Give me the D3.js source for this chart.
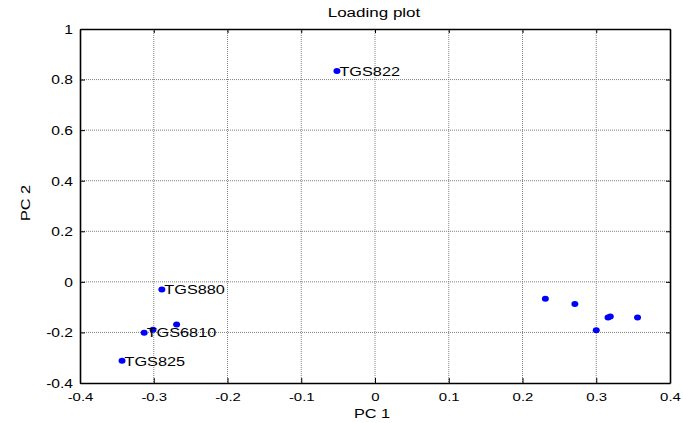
<!DOCTYPE html>
<html><head><meta charset="utf-8">
<script src="https://cdn.jsdelivr.net/npm/d3@7"></script>
<style>html,body{margin:0;padding:0;background:#fff;} svg{display:block;} text{font-family:"Liberation Sans",Arial,sans-serif;fill:#000;}</style>
</head><body>
<svg id="c" width="683" height="423"></svg>
<script>
// ---- data ----
const pc1 = [-0.0516, -0.289, -0.313, -0.301, -0.269, -0.343, 0.231, 0.271, 0.300, 0.316, 0.319, 0.356];
const pc2 = [0.834, -0.030, -0.201, -0.189, -0.169, -0.312, -0.067, -0.088, -0.191, -0.141, -0.137, -0.141];
const pointLabels = ["TGS822", "TGS880", "TGS6810", "", "", "TGS825", "", "", "", "", "", ""];
const xTicks = [-0.4, -0.3, -0.2, -0.1, 0, 0.1, 0.2, 0.3, 0.4];
const yTicks = [-0.4, -0.2, 0, 0.2, 0.4, 0.6, 0.8, 1];
const titleText = "Loading plot";
const xLabel = "PC 1";
const yLabel = "PC 2";

// ---- layout ----
const L = 80, R = 670, T = 29, B = 383;
const SX = 1.3; // horizontal text stretch
const svg = d3.select("#c");
const x = d3.scaleLinear().domain([-0.4, 0.4]).range([L, R]);
const y = d3.scaleLinear().domain([-0.4, 1]).range([B, T]);
const fmt = d => String(+d.toFixed(1));

// grid
const grid = svg.append("g");
grid.selectAll("line.gx").data(xTicks.slice(1, -1)).join("line")
  .attr("x1", d => x(d)).attr("x2", d => x(d)).attr("y1", T).attr("y2", B)
  .attr("stroke", "#808080").attr("stroke-width", 1).attr("stroke-dasharray", "1,1");
grid.selectAll("line.gy").data(yTicks.slice(1, -1)).join("line")
  .attr("x1", L).attr("x2", R).attr("y1", d => y(d)).attr("y2", d => y(d))
  .attr("stroke", "#808080").attr("stroke-width", 1).attr("stroke-dasharray", "1,1");

// axes (ticks inward, on all sides)
function styleAxis(g) {
  g.selectAll("path.domain").attr("stroke", "#000").attr("stroke-width", 1.6);
  g.selectAll(".tick line").attr("stroke", "#000").attr("stroke-width", 1);
}
const axB = svg.append("g").attr("transform", `translate(0,${B})`)
  .call(d3.axisBottom(x).tickValues(xTicks).tickFormat(fmt).tickSizeInner(-5).tickSizeOuter(0).tickPadding(0));
styleAxis(axB);
axB.selectAll(".tick text").attr("font-size", 11.5).attr("dy", null).attr("y", 0)
  .attr("transform", "translate(0,18) scale(" + SX + ",1)").attr("font-family", "Liberation Sans, Arial, sans-serif");

const axL = svg.append("g").attr("transform", `translate(${L},0)`)
  .call(d3.axisLeft(y).tickValues(yTicks).tickFormat(fmt).tickSizeInner(-5).tickSizeOuter(0).tickPadding(0));
styleAxis(axL);
axL.selectAll(".tick text").attr("font-size", 12).attr("dy", null).attr("x", 0)
  .attr("transform", "translate(-7,4.4) scale(" + SX + ",1)").attr("font-family", "Liberation Sans, Arial, sans-serif");

const axT = svg.append("g").attr("transform", `translate(0,${T})`)
  .call(d3.axisTop(x).tickValues(xTicks).tickFormat("").tickSizeInner(-4).tickSizeOuter(0));
styleAxis(axT);
const axR = svg.append("g").attr("transform", `translate(${R},0)`)
  .call(d3.axisRight(y).tickValues(yTicks).tickFormat("").tickSizeInner(-4).tickSizeOuter(0));
styleAxis(axR);

// points
const idx = d3.range(pc1.length);
svg.append("g").selectAll("ellipse").data(idx).join("ellipse")
  .attr("cx", i => x(pc1[i])).attr("cy", i => y(pc2[i]))
  .attr("rx", 3.5).attr("ry", 3).attr("fill", "#0000ff");

// point labels
svg.append("g").selectAll("text").data(idx.filter(i => pointLabels[i])).join("text")
  .attr("transform", i => `translate(${x(pc1[i]) + 2.5},${y(pc2[i]) + 4.8}) scale(1.27,1)`)
  .attr("font-size", 12.8).text(i => pointLabels[i]);

// title and axis labels
svg.append("text").attr("transform", `translate(${(L + R) / 2 - 1},17) scale(1.36,1)`)
  .attr("text-anchor", "middle").attr("font-size", 12.5).text(titleText);
svg.append("text").attr("transform", `translate(${(L + R) / 2 - 3},418) scale(1.36,1)`)
  .attr("text-anchor", "middle").attr("font-size", 12).text(xLabel);
svg.append("text").attr("transform", `translate(29.5,203) rotate(-90) scale(1.36,1)`)
  .attr("text-anchor", "middle").attr("font-size", 12).text(yLabel);
</script>
</body></html>
